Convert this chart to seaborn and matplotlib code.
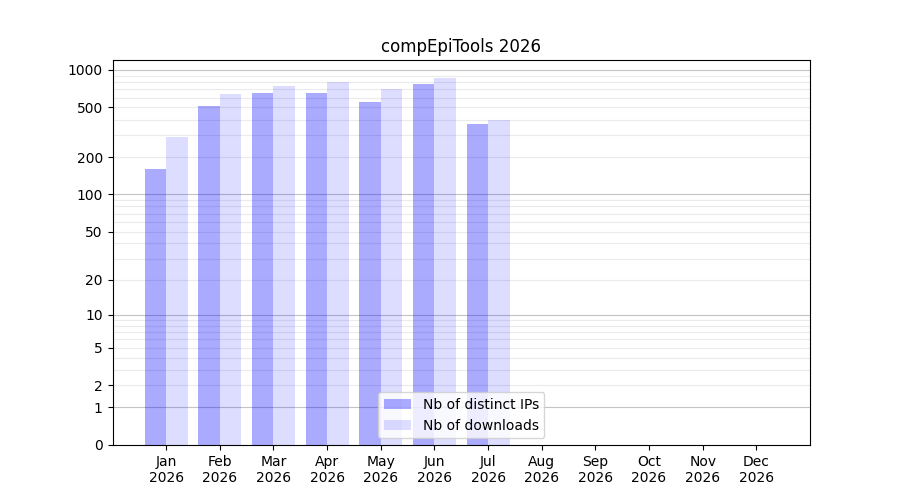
import numpy as np
import pandas as pd
import matplotlib
matplotlib.use("Agg")
import matplotlib.pyplot as plt
import seaborn as sns

# data (Aug-Dec empty)
months = ["Jan", "Feb", "Mar", "Apr", "May", "Jun", "Jul", "Aug", "Sep", "Oct", "Nov", "Dec"]
year = 2026
distinct_ips = [161, 515, 654, 652, 554, 772, 369, 0, 0, 0, 0, 0]
downloads = [292, 642, 744, 801, 704, 862, 397, 0, 0, 0, 0, 0]
series_labels = ["Nb of distinct IPs", "Nb of downloads"]
ytick_values = [0, 1, 2, 5, 10, 20, 50, 100, 200, 500, 1000]

df = pd.DataFrame({
    "month": months * 2,
    "count": distinct_ips + downloads,
    "serie": [series_labels[0]] * len(months) + [series_labels[1]] * len(months),
})

fig, ax = plt.subplots(figsize=(9, 5), dpi=100)

# y scale log10(1 + x)
def fwd(x):
    return np.log10(1 + np.clip(x, 0, None))

def inv(y):
    return 10 ** y - 1

ax.set_yscale("function", functions=(fwd, inv))

# grid lines by hand (decades darker)
for d in [1, 10, 100]:
    for m in range(2, 10):
        ax.axhline(d * m, color="#ebebeb", lw=0.8, zorder=0.5)
for v in [1, 10, 100, 1000]:
    ax.axhline(v, color="#c4c4c4", lw=0.8, zorder=0.6)

sns.barplot(data=df, x="month", y="count", hue="serie", order=months,
            hue_order=series_labels, palette=["blue", "blue"], saturation=1,
            width=0.8, linewidth=0, legend=False, ax=ax, zorder=2)

alphas = [0.333, 0.135]
for cont, a in zip(ax.containers, alphas):
    for p in cont.patches:
        p.set_facecolor((0, 0, 1, a))
        p.set_edgecolor("none")

ax.set_ylim(0, 1200)
ax.set_xlim(-1, 12)
ax.set_yticks(ytick_values)
ax.set_yticklabels([str(v) for v in ytick_values])
ax.yaxis.set_minor_locator(matplotlib.ticker.NullLocator())
ax.set_xticks(range(len(months)))
ax.set_xticklabels([f"{m}\n{year}" for m in months])
ax.set_xlabel("")
ax.set_ylabel("")
ax.set_title(f"compEpiTools {year}")

ax.legend(ax.containers, series_labels, loc="lower center")

fig.savefig("out.png", dpi=100)
